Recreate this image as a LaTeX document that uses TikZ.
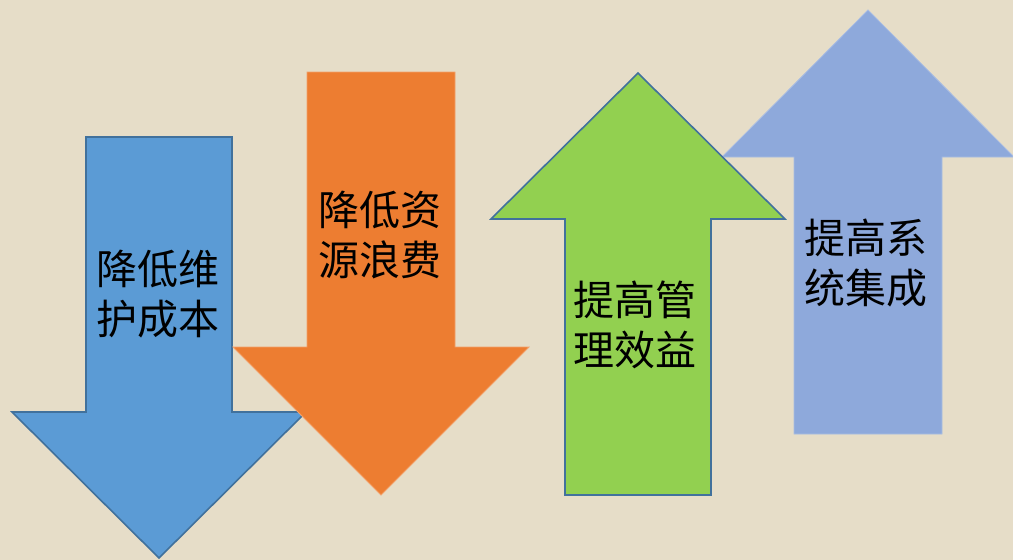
\documentclass[tikz,border=0pt]{standalone}
\usepackage{fontspec}
\newfontfamily\cjk{Noto Sans CJK SC}
\definecolor{bgc}{HTML}{E6DDC8}
\definecolor{blueA}{HTML}{5B9BD5}
\definecolor{orangeA}{HTML}{ED7D31}
\definecolor{greenA}{HTML}{92D050}
\definecolor{lavA}{HTML}{8EA9DB}
\definecolor{darkline}{HTML}{41719C}
\definecolor{orangeL}{HTML}{F2A06A}
\definecolor{lavL}{HTML}{A9BDE3}
\tikzset{
  darkedge/.style={draw=darkline, line width=1.6pt, line join=miter},
  lightedge/.style={line width=0.8pt, line join=miter},
  lbl/.style={font=\cjk\fontsize{41}{50}\selectfont, align=center, text=black, inner sep=0pt}
}
\begin{document}
\begin{tikzpicture}[x=1pt,y=-1pt]
\useasboundingbox (0,0) rectangle (1013,560);
\fill[bgc] (0,0) rectangle (1013,560);
\clip (0,0) rectangle (1013,560);
% blue down arrow
\path[fill=blueA, darkedge] (86,137) -- (232,137) -- (232,412) -- (306,412) -- (159,558) -- (12,412) -- (86,412) -- cycle;
% orange down arrow
\path[fill=orangeA, draw=orangeL, lightedge] (307,72) -- (455,72) -- (455,347) -- (529,347) -- (381,495) -- (233,347) -- (307,347) -- cycle;
% lavender up arrow
\path[fill=lavA, draw=lavL, lightedge] (868,10) -- (1014,157) -- (942,157) -- (942,434) -- (794,434) -- (794,157) -- (722,157) -- cycle;
% green up arrow
\path[fill=greenA, darkedge] (638,73) -- (785,219) -- (711,219) -- (711,495) -- (565,495) -- (565,219) -- (491,219) -- cycle;
\node[lbl] (t1) at (158,294) {降低维\\护成本};
\node[lbl] (t2) at (380,235) {降低资\\源浪费};
\node[lbl] (t3) at (635,325) {提高管\\理效益};
\node[lbl] (t4) at (866,263) {提高系\\统集成};
\end{tikzpicture}
\end{document}
